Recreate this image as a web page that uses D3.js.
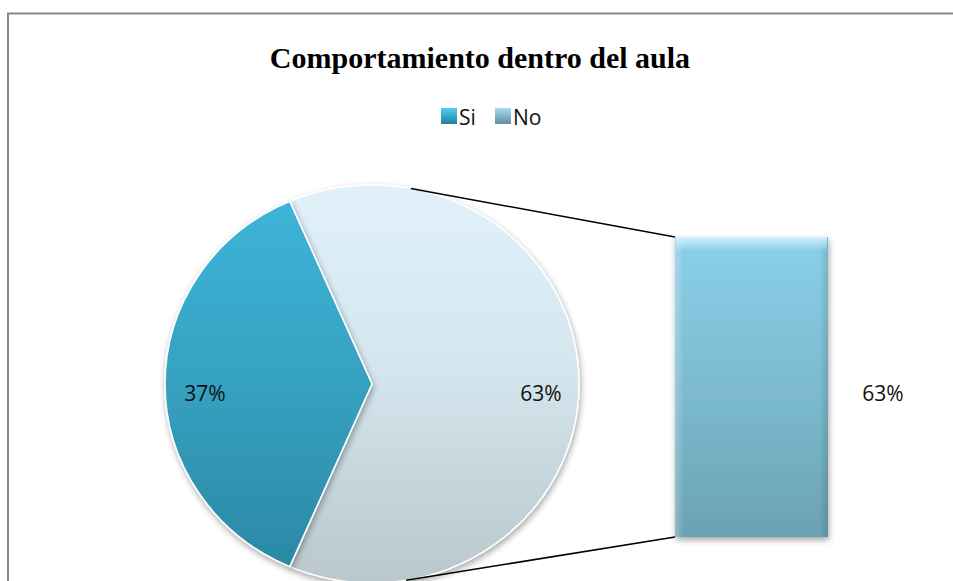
<!DOCTYPE html>
<html>
<head>
<meta charset="utf-8">
<script src="https://cdnjs.cloudflare.com/ajax/libs/d3/7.8.5/d3.min.js"></script>
<style>
  body { margin: 0; background: #fff; }
  svg { display: block; }
</style>
</head>
<body>
<div id="chart"></div>
<script>
// datos
const categories = ['Si', 'No'];
const values = [37, 63];
const labels = ['37%', '63%'];
const barValue = 63;
const barLabel = '63%';
const title = 'Comportamiento dentro del aula';

const W = 953, H = 581;
const cx = 372, cy = 384, r = 199, sx = 207 / 199;

const svg = d3.select('#chart').append('svg')
    .attr('width', W)
    .attr('height', H);

const defs = svg.append('defs');

function vGrad(id, stops, horiz) {
    const g = defs.append('linearGradient').attr('id', id)
        .attr('x1', 0).attr('y1', 0)
        .attr('x2', horiz ? 1 : 0).attr('y2', horiz ? 0 : 1);
    stops.forEach(s => g.append('stop').attr('offset', s[0])
        .attr('stop-color', s[1]).attr('stop-opacity', s[2] === undefined ? 1 : s[2]));
}
vGrad('gSi', [[0, '#3db4d8'], [0.45, '#37a3c3'], [1, '#2b89a5']]);
vGrad('gNo', [[0, '#e0f1f9'], [0.45, '#d4e6ee'], [1, '#bac7cd']]);
vGrad('gBar', [[0, '#8ad0e8'], [0.5, '#7cbbd0'], [1, '#6aa2b2']]);
vGrad('gBarTop', [[0, '#d8f6ff', 0.9], [1, '#d8f6ff', 0]]);
vGrad('gBarSide', [[0, '#ffffff', 0.25], [0.06, '#ffffff', 0], [0.94, '#000000', 0], [1, '#000000', 0.12]], true);
vGrad('gLegSi', [[0, '#56cdef'], [1, '#1f7f9f']]);
vGrad('gLegNo', [[0, '#a8dcef'], [1, '#5f8fa2']]);

const shadow = defs.append('filter').attr('id', 'shadow')
    .attr('x', '-10%').attr('y', '-10%').attr('width', '130%').attr('height', '130%');
shadow.append('feDropShadow').attr('dx', 1).attr('dy', 3).attr('stdDeviation', 3)
    .attr('flood-color', '#000').attr('flood-opacity', 0.35);

// marco
svg.append('path')
    .attr('d', `M8,${H + 5} L8,13.5 L${W + 5},13.5`)
    .attr('fill', 'none')
    .attr('stroke', '#8a8a8a')
    .attr('stroke-width', 2);

// titulo
svg.append('text')
    .attr('x', 480)
    .attr('y', 68)
    .attr('text-anchor', 'middle')
    .style('font-family', '"Liberation Serif", "Times New Roman", serif')
    .style('font-weight', 'bold')
    .style('font-size', '30px')
    .text(title);

// leyenda
const legend = svg.append('g').attr('transform', 'translate(441,108)');
const legX = [0, 54];
categories.forEach((c, i) => {
    const row = legend.append('g').attr('transform', `translate(${legX[i]},0)`);
    row.append('rect')
        .attr('width', 16).attr('height', 16)
        .attr('fill', i === 0 ? 'url(#gLegSi)' : 'url(#gLegNo)');
    row.append('text')
        .attr('x', 18).attr('y', 17)
        .style('font-family', '"Open Sans", "Noto Sans", sans-serif')
        .style('font-size', '21px')
        .attr('fill', '#111')
        .text(c);
});

// pastel
const startA = Math.PI / 2 - (values[1] / 100) * Math.PI;
const pie = d3.pie().sort(null)
    .startAngle(startA)
    .endAngle(startA + 2 * Math.PI);
// el orden: No primero (a la derecha), luego Si
const order = [1, 0];
const arcs = pie(order.map(i => values[i]));
const arc = d3.arc().innerRadius(0).outerRadius(r);

const pieG = svg.append('g')
    .attr('transform', `translate(${cx},${cy}) scale(${sx},1)`);

pieG.selectAll('path.slice')
    .data(arcs)
    .enter()
    .append('path')
    .attr('class', 'slice')
    .attr('d', arc)
    .attr('fill', (d, k) => order[k] === 0 ? 'url(#gSi)' : 'url(#gNo)')
    .attr('stroke', '#ffffff')
    .attr('stroke-width', 1.5)
    .attr('filter', 'url(#shadow)');

// lineas de conexion (tangentes desde las esquinas de la barra)
const barX = 675, barW = 153;
const yScale = d3.scaleLinear().domain([0, barValue]).range([537, 237]);

function tangent(px, py, side) {
    const lx = (px - cx) / sx, ly = py - cy;
    const d = Math.hypot(lx, ly);
    const base = Math.atan2(ly, lx);
    const off = Math.acos(r / d);
    const a = base + side * off;
    return [cx + sx * r * Math.cos(a), cy + r * Math.sin(a)];
}
const tTop = tangent(barX, yScale(barValue), -1);
const tBot = tangent(barX, yScale(0), 1);

svg.append('line')
    .attr('x1', tTop[0]).attr('y1', tTop[1])
    .attr('x2', barX).attr('y2', yScale(barValue))
    .attr('stroke', '#000').attr('stroke-width', 1.5);
svg.append('line')
    .attr('x1', tBot[0]).attr('y1', tBot[1])
    .attr('x2', barX).attr('y2', yScale(0))
    .attr('stroke', '#000').attr('stroke-width', 1.5);

// barra
const barY = yScale(barValue), barH = yScale(0) - yScale(barValue);
svg.append('rect')
    .attr('x', barX).attr('y', barY)
    .attr('width', barW).attr('height', barH)
    .attr('fill', 'url(#gBar)')
    .attr('filter', 'url(#shadow)');
// bisel
svg.append('rect')
    .attr('x', barX).attr('y', barY)
    .attr('width', barW).attr('height', barH)
    .attr('fill', 'url(#gBarSide)');
svg.append('rect')
    .attr('x', barX + 1).attr('y', barY)
    .attr('width', barW - 2).attr('height', 14)
    .attr('fill', 'url(#gBarTop)');

// etiquetas
const labelStyle = sel => sel
    .style('font-family', '"Open Sans", "Noto Sans", sans-serif')
    .style('font-size', '21px')
    .attr('fill', '#111')
    .attr('text-anchor', 'middle');

svg.append('text').call(labelStyle)
    .attr('x', 205).attr('y', 401).text(labels[0]);
svg.append('text').call(labelStyle)
    .attr('x', 541).attr('y', 401).text(labels[1]);
svg.append('text').call(labelStyle)
    .attr('x', 883).attr('y', 401).text(barLabel);
</script>
</body>
</html>
